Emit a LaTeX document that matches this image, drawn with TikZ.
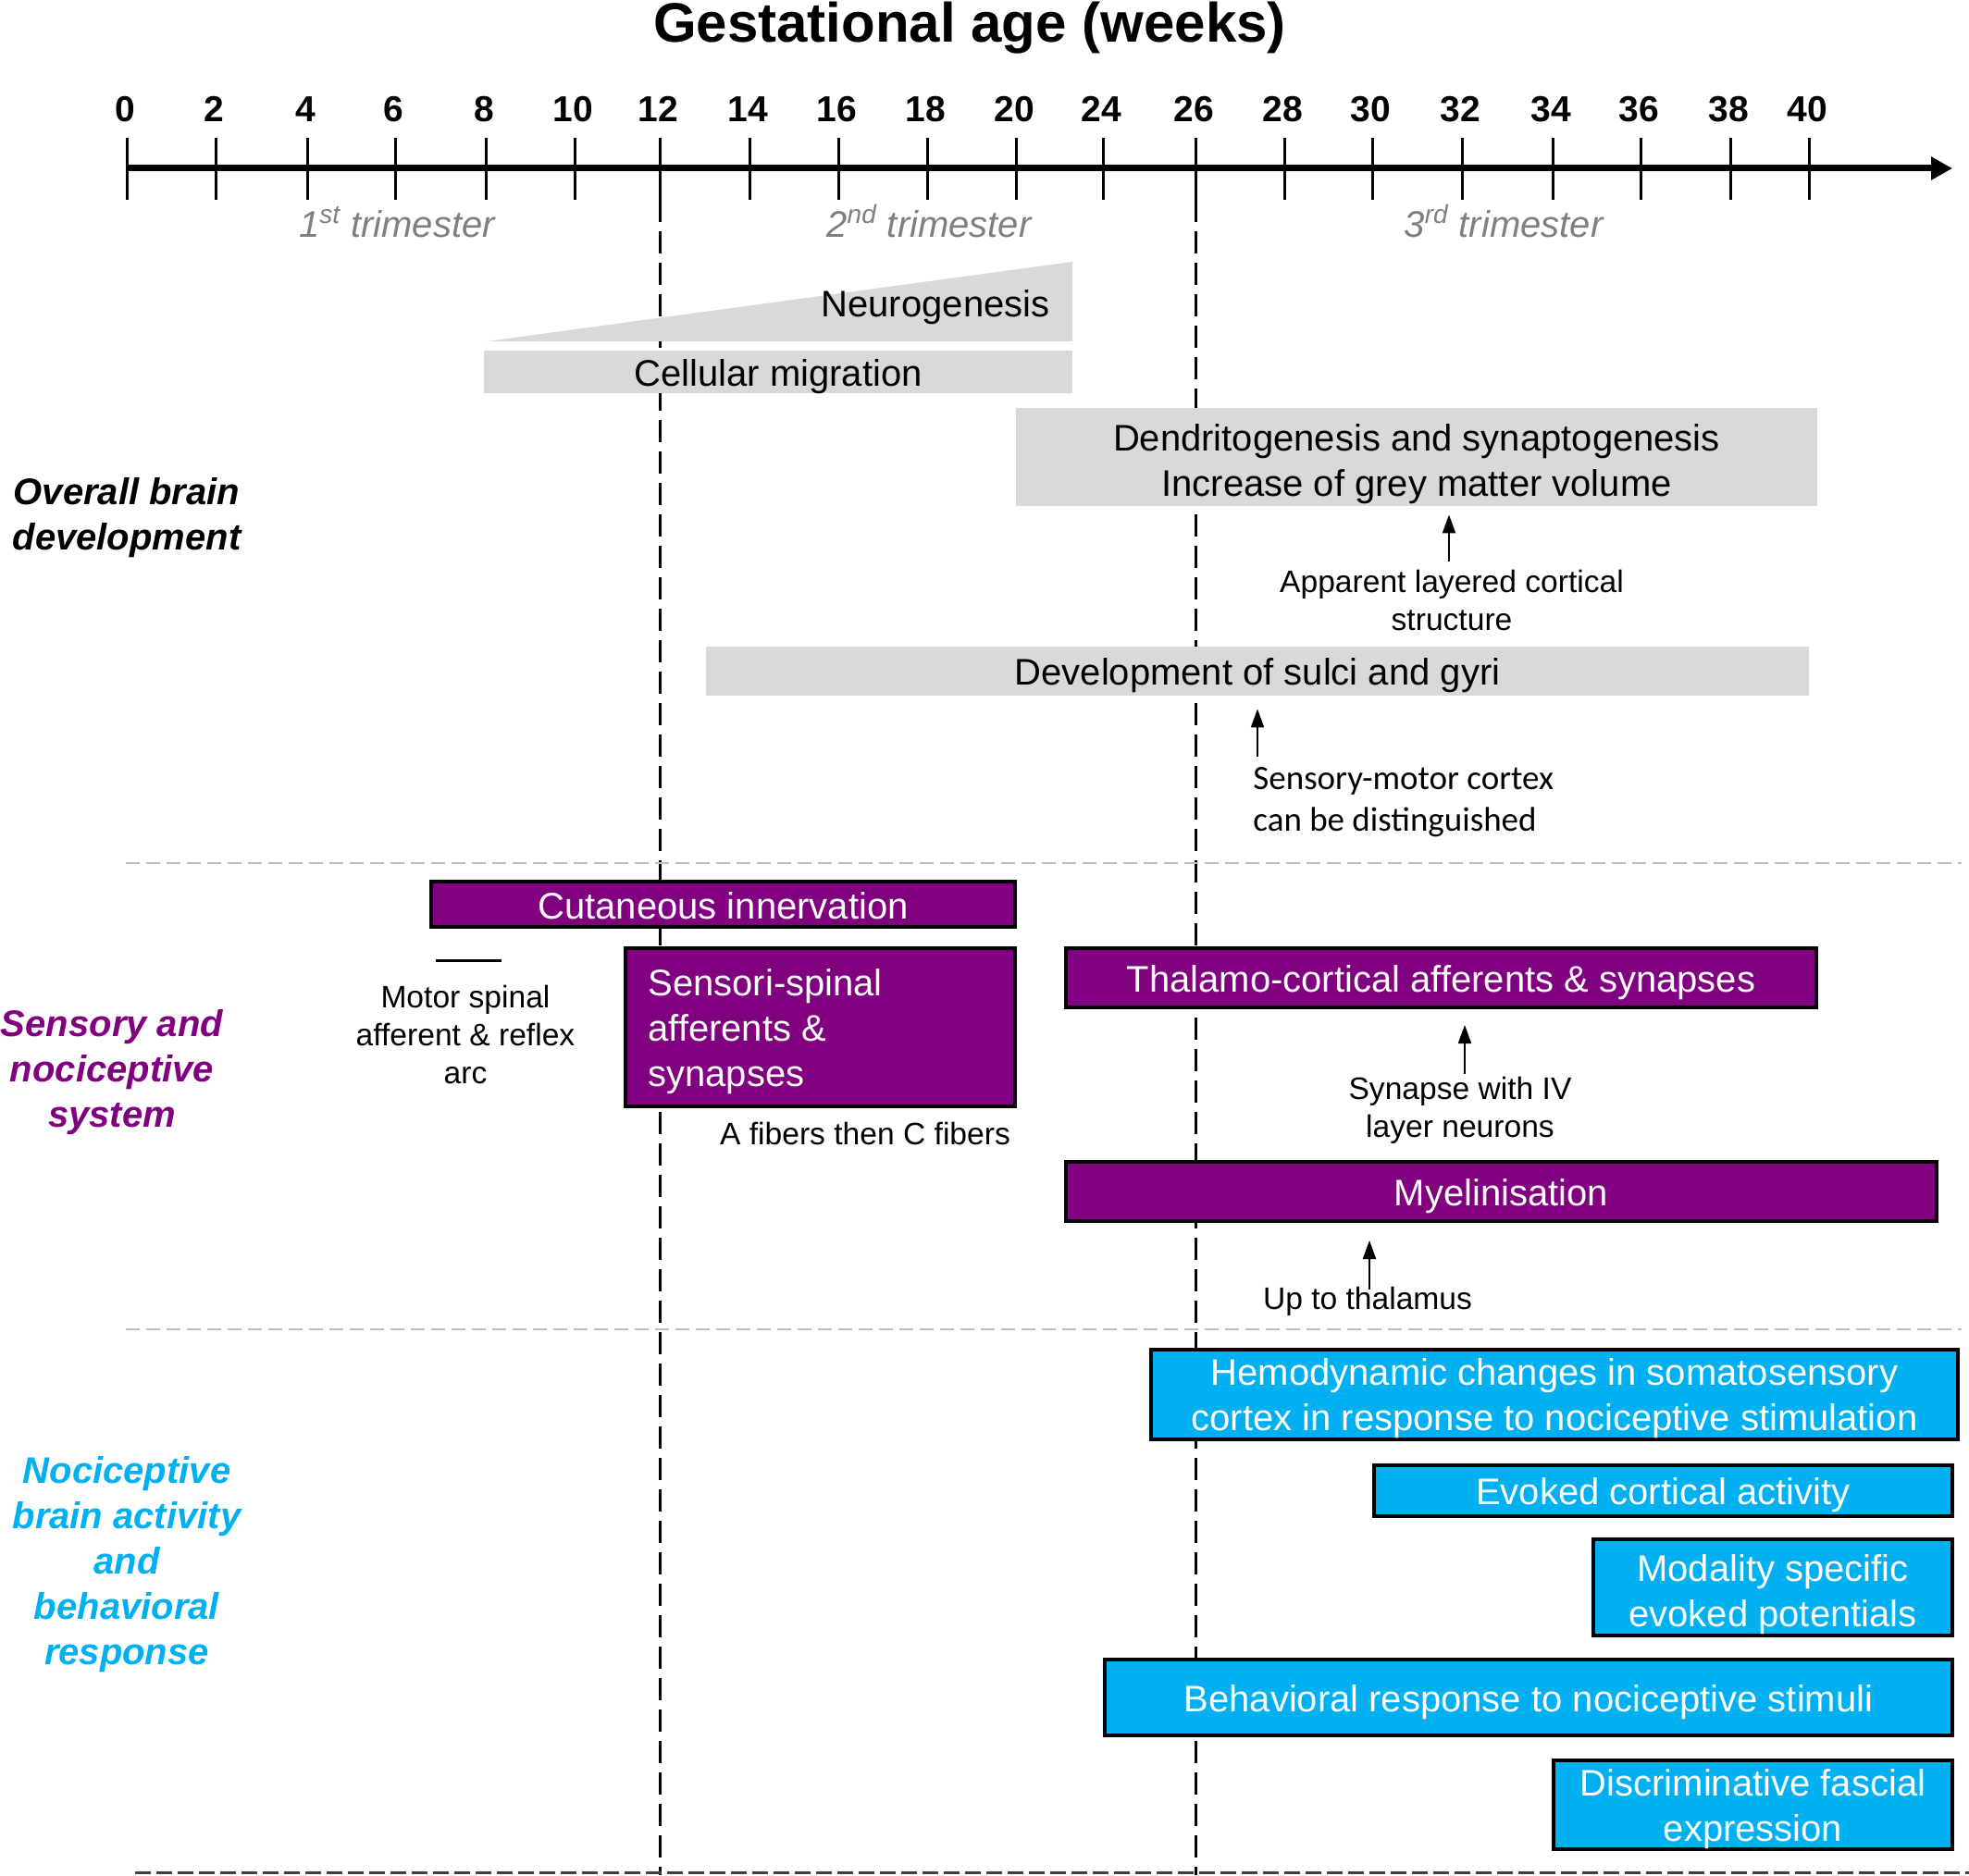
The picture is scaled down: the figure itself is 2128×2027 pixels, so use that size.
\documentclass[tikz,border=0pt]{standalone}
\usepackage{fontspec}
\setmainfont{Liberation Sans}
\newfontfamily\calibrifam{Carlito}
\usetikzlibrary{arrows.meta,fit}
\definecolor{gry}{HTML}{D9D9D9}
\definecolor{purp}{HTML}{800080}
\definecolor{cyanb}{HTML}{00B0F0}
\definecolor{trig}{HTML}{7F7F7F}
\definecolor{sepg}{HTML}{BFBFBF}
\definecolor{botg}{HTML}{404040}
\newcommand{\myboxfont}{\fontsize{20}{24.5}\selectfont}
\newcommand{\myannfont}{\fontsize{16.8}{20.5}\selectfont}
\newcommand{\mycalfont}{\calibrifam\fontsize{18.5}{22.5}\selectfont}
\newcommand{\mycatfont}{\bfseries\itshape\fontsize{20}{24.5}\selectfont}
\tikzset{
  gbox/.style={fill=gry, inner sep=0pt},
  pbox/.style={fill=purp, draw=black, line width=2pt, inner sep=0pt},
  bbox/.style={fill=cyanb, draw=black, line width=2pt, inner sep=0pt},
  btext/.style={inner sep=0pt, align=center, font=\myboxfont, yshift=-2.5pt},
  wtext/.style={inner sep=0pt, align=center, text=white, font=\myboxfont, yshift=-2.5pt},
  twoline/.style={yshift=-1.5pt},
  ann/.style={inner sep=0pt, align=center, font=\myannfont},
  cat/.style={inner sep=0pt, align=center, font=\mycatfont},
  arr/.style={line width=1pt, -{Triangle[length=10pt,width=7pt]}},
  vdash/.style={line width=1.5pt, dash pattern=on 12pt off 5pt},
  sep/.style={sepg, line width=1pt, dash pattern=on 7.5pt off 3.5pt},
}
\begin{document}
\begin{tikzpicture}[x=0.5pt,y=-0.5pt]
\useasboundingbox (0,0) rectangle (2128,2027);

% title
\node[anchor=base, inner sep=0pt, font=\bfseries\fontsize{30}{36}\selectfont] (title) at (1048,46) {Gestational age (weeks)};

% axis
\coordinate (axs) at (136,182);
\coordinate (axe) at (2110,182);
\draw[line width=3.5pt, -{Triangle[length=11.5pt,width=12pt]}] (axs) -- (axe);
\foreach \v/\x in {0/137,2/233,4/332,6/427,8/525,10/621,12/713,14/810,16/906,18/1002,20/1098,24/1192,26/1292,28/1388,30/1483,32/1580,34/1678,36/1773,38/1870,40/1955}{
  \draw[line width=1.5pt] (\x,149) -- (\x,216);
  \node[anchor=base, inner sep=0pt, font=\bfseries\fontsize{19.5}{24}\selectfont] (t\v) at (\x-2,132) {\v};
}

% trimesters
\node[anchor=base, inner sep=0pt, text=trig, font=\itshape\fontsize{20}{24}\selectfont] (tri1) at (429,257) {1\textsuperscript{st} trimester};
\node[anchor=base, inner sep=0pt, text=trig, font=\itshape\fontsize{20}{24}\selectfont] (tri2) at (1004,257) {2\textsuperscript{nd} trimester};
\node[anchor=base, inner sep=0pt, text=trig, font=\itshape\fontsize{20}{24}\selectfont] (tri3) at (1625,257) {3\textsuperscript{rd} trimester};

% dashed verticals
\coordinate (v12a) at (713,216); \coordinate (v12b) at (713,2027);
\coordinate (v26a) at (1292,216); \coordinate (v26b) at (1292,2027);
\draw[vdash] (v12a) -- (v12b);
\draw[vdash] (v26a) -- (v26b);

% separators
\coordinate (s1a) at (136,933); \coordinate (s1b) at (2120,933);
\coordinate (s2a) at (136,1437); \coordinate (s2b) at (2120,1437);
\coordinate (s3a) at (146,2024); \coordinate (s3b) at (2128,2024);
\draw[sep] (s1a) -- (s1b);
\draw[sep] (s2a) -- (s2b);
\draw[botg, line width=1.5pt, dash pattern=on 8.5pt off 3pt] (s3a) -- (s3b);

% overall brain development
\fill[gry] (526,369) -- (1159,283) -- (1159,369) -- cycle;
\node[btext] (neuro) at (1011,327) {Neurogenesis};
\node[gbox, fit={(523,379) (1159,425)}] (cell) {};
\node[btext] (cellt) at (cell.center) {Cellular migration};
\node[gbox, fit={(1098,441) (1964,547)}] (dend) {};
\node[btext, twoline] (dendt) at (dend.center) {Dendritogenesis and synaptogenesis\\Increase of grey matter volume};
\node[gbox, fit={(763,699) (1955,752)}] (sulci) {};
\node[btext] (sulcit) at (sulci.center) {Development of sulci and gyri};

\node[ann] (appar) at (1569,648.5) {Apparent layered cortical\\structure};
\coordinate (a1) at (1566,607);
\draw[arr, shorten >=4.5pt] (a1) -- (a1 |- dend.south);

\node[inner sep=0pt, align=left, anchor=west, font=\mycalfont] (senmot) at (1354,867) {Sensory-motor cortex\\can be distinguished};
\coordinate (a2) at (1359,818);
\draw[arr, shorten >=7pt] (a2) -- (a2 |- sulci.south);

\node[cat] (catA) at (137,559.5) {Overall brain\\development};

% sensory and nociceptive system
\node[pbox, fit={(466,953) (1097,1002)}] (cut) {};
\node[wtext, yshift=1.5pt] (cutt) at (cut.center) {Cutaneous innervation};
\node[pbox, fit={(676,1025) (1097,1196)}] (sens) {};
\node[wtext, align=left, anchor=west] (senstext) at (700,1110) {Sensori-spinal\\afferents \&\\synapses};
\node[pbox, fit={(1152,1025) (1963,1089)}] (thal) {};
\node[wtext] (thalt) at (thal.center) {Thalamo-cortical afferents \& synapses};
\node[pbox, fit={(1152,1256) (2093,1320)}] (myel) {};
\node[wtext] (myelt) at (myel.center) {Myelinisation};

\coordinate (ms1) at (471,1038); \coordinate (ms2) at (542,1038);
\draw[line width=1.5pt] (ms1) -- (ms2);
\node[ann] (motor) at (503,1118) {Motor spinal\\afferent \& reflex\\arc};
\node[ann] (afib) at (935,1225) {A fibers then C fibers};

\node[ann] (syn) at (1578,1200) {Synapse with IV\\layer neurons};
\coordinate (a3) at (1583,1161);
\draw[arr, shorten >=8.5pt] (a3) -- (a3 |- thal.south);

\node[ann] (upto) at (1478,1407) {Up to thalamus};
\coordinate (a4) at (1480,1394);
\draw[arr, shorten >=9.5pt] (a4) -- (a4 |- myel.south);

\node[cat, text=purp] (catB) at (121,1159.5) {Sensory and\\nociceptive\\system};

% nociceptive brain activity
\node[bbox, fit={(1244,1459) (2116,1556)}] (hemo) {};
\node[wtext, twoline, yshift=2pt] (hemot) at (hemo.center) {Hemodynamic changes in somatosensory\\cortex in response to nociceptive stimulation};
\node[bbox, fit={(1485,1584) (2110,1639)}] (evok) {};
\node[wtext] (evokt) at (evok.center) {Evoked cortical activity};
\node[bbox, fit={(1722,1664) (2110,1768)}] (moda) {};
\node[wtext, twoline] (modat) at (moda.center) {Modality specific\\evoked potentials};
\node[bbox, fit={(1194,1794) (2110,1876)}] (behav) {};
\node[wtext] (behavt) at (behav.center) {Behavioral response to nociceptive stimuli};
\node[bbox, fit={(1679,1903) (2110,1999)}] (disc) {};
\node[wtext, twoline, yshift=1.5pt] (disct) at (disc.center) {Discriminative fascial\\expression};

\node[cat, text=cyanb] (catC) at (137,1691) {Nociceptive\\brain activity\\and\\behavioral\\response};
\end{tikzpicture}
\end{document}
